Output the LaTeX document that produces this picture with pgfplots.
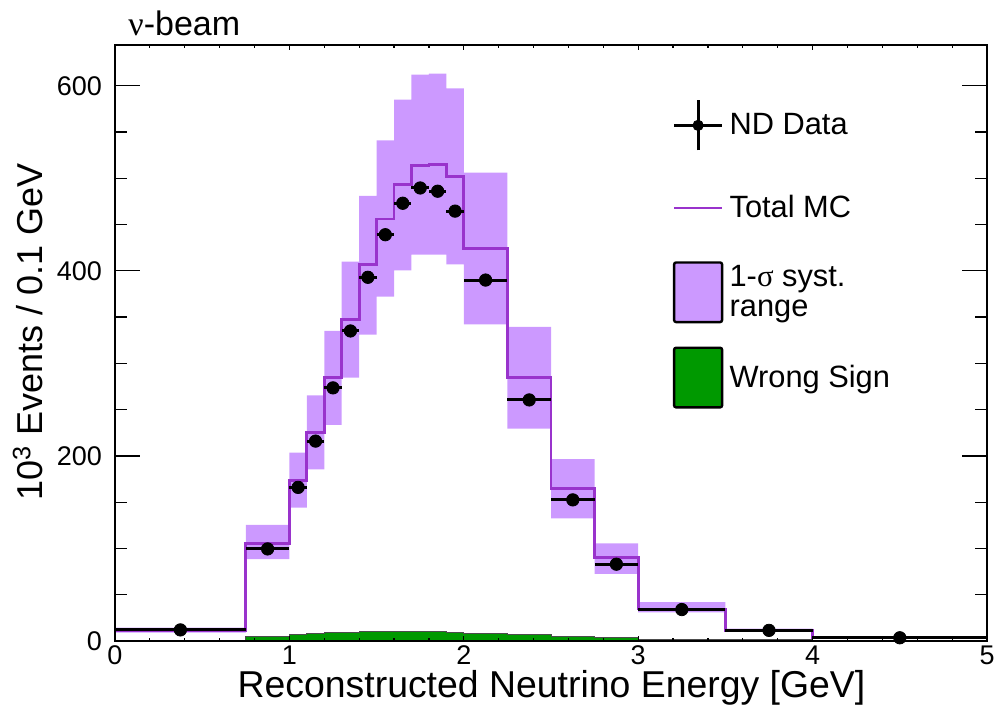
\documentclass[border=0pt]{standalone}
\usepackage{fontspec}
\setmainfont{Liberation Sans}
\newfontfamily\greekfont{Liberation Serif}
\usepackage{pgfplots}
\usepackage{pgfplotstable}
\pgfplotsset{compat=1.18}
\usepgfplotslibrary{fillbetween}

\definecolor{bandcol}{RGB}{204,153,255}
\definecolor{mccol}{RGB}{153,51,204}
\definecolor{wscol}{RGB}{0,153,0}

% bin lower edges; last row closes the final bin
\pgfplotstableread{
x    mc    hi    lo    ws
0    11.5  14.5  9     0
0.75 105.5 125.5 88.5  5
1.0  173.5 203.5 144   7.5
1.1  225   265.5 185.5 8.5
1.2  284.5 335   233.5 9.3
1.3  347   410   284.5 9.7
1.4  407   481   331   10
1.5  456   541   372   10.2
1.6  493   585   400.5 10.3
1.7  514   612   417.5 10.2
1.8  515   613   417.5 10
1.9  502   597   407   9.6
2.0  424.5 506   342   8.3
2.25 284.5 339.5 229.5 7
2.5  164.5 196.5 132.5 5
2.75 90.5  105.5 72.5  3.6
3.0  34.5  42    31    2
3.5  11.5  13.5  10    1.3
4.0  3.5   4.8   2.5   0.8
5.0  3.5   4.8   2.5   0.8
}\hist

\pgfplotstableread{
x     y     ex
0.375 12    0.375
0.875 99.5  0.125
1.05  166   0.05
1.15  216   0.05
1.25  273.5 0.05
1.35  335   0.05
1.45  393   0.05
1.55  439   0.05
1.65  473   0.05
1.75  489.5 0.05
1.85  486   0.05
1.95  464.5 0.05
2.125 390   0.125
2.375 260.5 0.125
2.625 152.5 0.125
2.875 83    0.125
3.25  34    0.25
3.75  11.5  0.25
4.5   3.5   0.5
}\data

\begin{document}
\begin{tikzpicture}
\begin{axis}[
  scale only axis, width=436pt, height=298pt,
  xmin=0, xmax=5, ymin=0, ymax=644,
  xtick={0,1,2,3,4,5}, ytick={0,200,400,600},
  minor x tick num=4, minor y tick num=3,
  tick align=inside, xtick pos=both, ytick pos=both,
  axis on top,
  axis line style={line width=1.2pt},
  every tick/.style={black, line width=0.6pt},
  xtick style={/pgfplots/major tick length=2.5pt,/pgfplots/minor tick length=1.5pt},
  ytick style={/pgfplots/major tick length=12.5pt,/pgfplots/minor tick length=6pt},
  /pgf/number format/assume math mode=true,
  tick label style={font=\fontsize{13.5}{14}\selectfont},
  yticklabel style={xshift=-3pt},
  xticklabel style={yshift=1pt},
  title={{\greekfont ν}-beam},
  title style={at={(axis description cs:0.0115,1.0168)}, anchor=base west,
    inner sep=0pt, xshift=1.5pt, yshift=-6.3pt, font=\fontsize{17}{18}\selectfont},
  xlabel={Reconstructed Neutrino Energy [GeV]},
  ylabel={10\textsuperscript{3} Events / 0.1 GeV},
  xlabel style={at={(axis description cs:0.5006,-0.094)}, anchor=base,
    font=\fontsize{18.7}{20}\selectfont},
  ylabel style={at={(axis description cs:-0.0826,0.519)}, anchor=base,
    font=\fontsize{18}{20}\selectfont},
  legend style={at={(axis description cs:0.639,0.9158)}, anchor=north west,
    draw=none, fill=none, inner sep=0pt, row sep=11.6pt,
    font=\fontsize{15.4}{15}\selectfont, cells={anchor=west},
    /tikz/every odd column/.append style={column sep=1pt}},
]
\coordinate (BL) at (rel axis cs:0,0);
\coordinate (TR) at (rel axis cs:1,1);

\addplot[name path=hi, draw=none, const plot, forget plot] table[x=x,y=hi]{\hist};
\addplot[name path=lo, draw=none, const plot, forget plot] table[x=x,y=lo]{\hist};
\addplot[bandcol, forget plot] fill between[of=hi and lo];

\addplot[const plot, fill=wscol, draw=black!70, line width=0.4pt, forget plot] table[x=x,y=ws]{\hist} \closedcycle;

\addplot[const plot, mccol, line width=1.4pt, forget plot] table[x=x,y=mc]{\hist};

\addplot[only marks, mark=*, mark size=3.1pt, black, forget plot,
  error bars/.cd, x dir=both, x explicit, error mark=none,
  error bar style={line width=1.5pt, black}]
  table[x=x, y=y, x error=ex]{\data};

\addlegendimage{legend image code/.code={
  \path[draw=none, fill=none] (0pt,-14.9pt) rectangle (24pt,14.9pt);
  \draw[black, line width=1.5pt] (0pt,0pt) -- (24pt,0pt) (12pt,-12.5pt) -- (12pt,12.5pt);
  \fill[black] (12pt,0pt) circle (2.6pt);
}}
\addlegendentry{ND Data}
\addlegendimage{legend image code/.code={
  \path[draw=none, fill=none] (0pt,-14.9pt) rectangle (24pt,14.9pt);
  \draw[mccol, line width=1.2pt] (0pt,0pt) -- (24pt,0pt);
}}
\addlegendentry{Total MC}
\addlegendimage{legend image code/.code={
  \draw[black, line width=1.2pt, fill=bandcol, rounded corners=1pt] (0pt,-14.9pt) rectangle (24pt,14.9pt);
}}
\addlegendentry{\vbox{\baselineskip=15pt\hbox{1-{\greekfont σ} syst.}\hbox{range}}}
\addlegendimage{legend image code/.code={
  \draw[black, line width=1.2pt, fill=wscol, rounded corners=1pt] (0pt,-14.9pt) rectangle (24pt,14.9pt);
}}
\addlegendentry{Wrong Sign}
\end{axis}
\pgfresetboundingbox
\path ([shift={(-57.5pt,-36pt)}]BL) rectangle ([shift={(4pt,22.5pt)}]TR);
\end{tikzpicture}
\end{document}
